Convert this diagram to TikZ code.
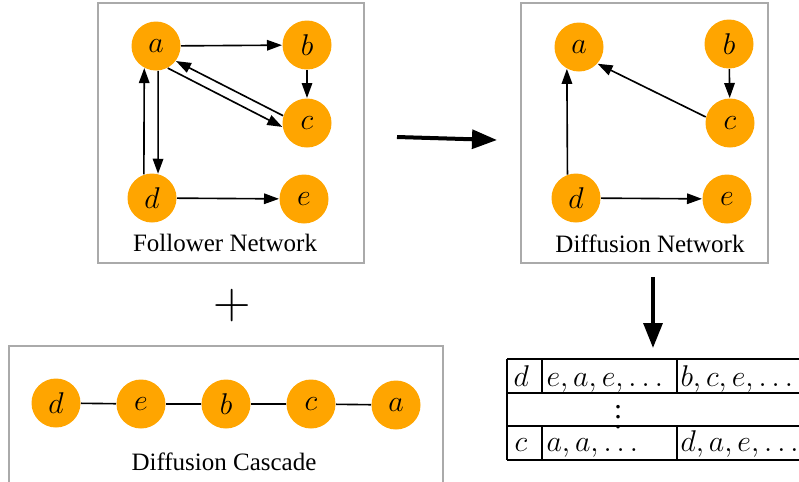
\documentclass[tikz,border=0pt]{standalone}
\usepackage{fontspec}
\setmainfont{Liberation Serif}
\usetikzlibrary{arrows.meta}
\definecolor{nodeorange}{HTML}{FFA500}
\definecolor{panelgray}{HTML}{AAAAAA}

\begin{document}
\begin{tikzpicture}[x=0.4pt, y=-0.4pt,
        vertex/.style={circle, fill=nodeorange, minimum size=19.6pt, inner sep=0pt, font=\large},
        edge/.style={-{Triangle[length=6pt, width=4.2pt]}, line width=0.65pt},
        panel/.style={draw=panelgray, line width=0.6pt},
        bigarrow/.style={-{Triangle[length=10pt, width=7.5pt]}, line width=1.6pt},
        tabtext/.style={anchor=base west, inner sep=0pt, font=\fontsize{12}{14}\selectfont}]
    \useasboundingbox (0,0) rectangle (799,481);

    % follower network
    \draw [panel] (98,3) rectangle (364,263);
    \node [vertex] (fa) at (156,46) {$a$};
    \node [vertex] (fb) at (307,45) {$b$};
    \node [vertex] (fc) at (307,123) {$c$};
    \node [vertex] (fd) at (152,198) {$d$};
    \node [vertex] (fe) at (304,199) {$e$};
    \node (flabel) at (225,243) {Follower Network};
    \draw [edge] (fa) -- (fb);
    \draw [edge] (fb) -- (fc);
    \draw [edge] (fa.-62) -- (fc.-171);
    \draw [edge] (fc.163) -- (fa.-37);
    \draw [edge] (fa.-85) -- (fd.76);
    \draw [edge] (fd.109) -- (fa.-118);
    \draw [edge] (fd) -- (fe);

    % diffusion network
    \draw [panel] (521,3) rectangle (768,263);
    \node [vertex] (da) at (579,47) {$a$};
    \node [vertex] (db) at (729,44) {$b$};
    \node [vertex] (dc) at (730,123) {$c$};
    \node [vertex] (dd) at (576,198) {$d$};
    \node [vertex] (de) at (727,199) {$e$};
    \node (dlabel) at (650,244) {Diffusion Network};
    \draw [edge] (db) -- (dc);
    \draw [edge] (dc.166) -- (da.-42);
    \draw [edge] (dd.110) -- (da.-119);
    \draw [edge] (dd) -- (de);

    % big arrows
    \coordinate (go1) at (397,137);
    \coordinate (go2) at (497,140);
    \draw [bigarrow] (go1) -- (go2);
    \coordinate (down1) at (653,277);
    \coordinate (down2) at (653,348);
    \draw [bigarrow] (down1) -- (down2);

    \node (plus) at (232,306) {\huge $+$};

    % diffusion cascade
    \draw [panel] (9,346) rectangle (443,484);
    \node [vertex] (cd) at (56,403) {$d$};
    \node [vertex] (ce) at (141,404) {$e$};
    \node [vertex] (cb) at (226,404) {$b$};
    \node [vertex] (cc) at (311,404) {$c$};
    \node [vertex] (ca) at (396,405) {$a$};
    \node (clabel) at (224,462) {Diffusion Cascade};
    \draw [line width=0.65pt] (cd) -- (ce) -- (cb) -- (cc) -- (ca);

    % table
    \draw [line width=0.5pt] (507,359) -- (805,359);
    \draw [line width=0.5pt] (507,393) -- (805,393);
    \draw [line width=0.5pt] (507,426) -- (805,426);
    \draw [line width=0.5pt] (507,460) -- (805,460);
    \draw [line width=0.5pt] (507,359) -- (507,460);
    \draw [line width=0.5pt] (542,359) -- (542,393) (542,426) -- (542,460);
    \draw [line width=0.5pt] (677,359) -- (677,393) (677,426) -- (677,460);
    \node [tabtext] (t11) at (513,386) {$d$};
    \node [tabtext] (t12) at (546,386) {$e, a, e, \ldots$};
    \node [tabtext] (t13) at (680,386) {$b, c, e, \ldots$};
    \node (tdots) at (618,410) {\fontsize{12}{14}\selectfont $\vdots$};
    \node [tabtext] (t31) at (514,451) {$c$};
    \node [tabtext] (t32) at (546,451) {$a, a, \ldots$};
    \node [tabtext] (t33) at (680,451) {$d, a, e, \ldots$};
\end{tikzpicture}
\end{document}
